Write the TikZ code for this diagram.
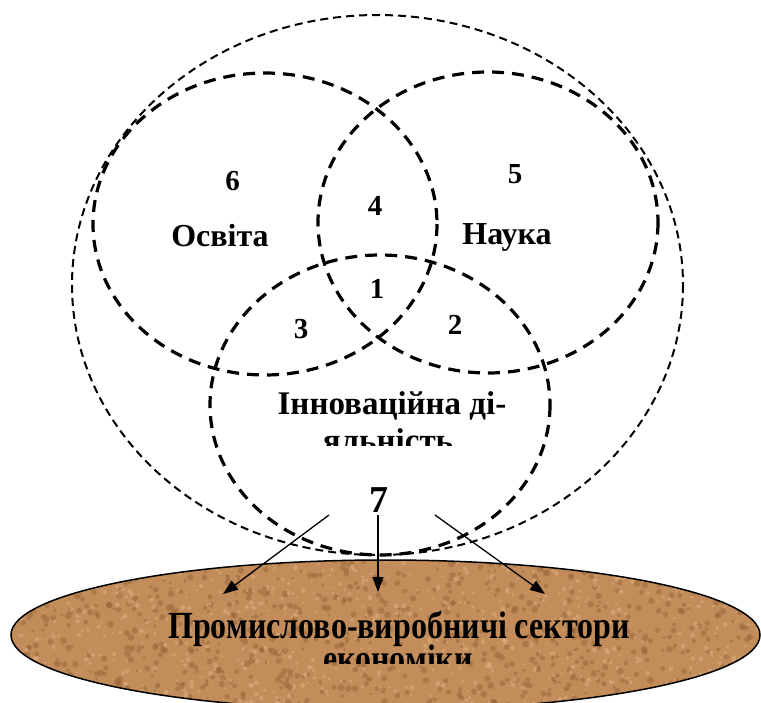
\documentclass[tikz,border=0pt]{standalone}
\usepackage{fontspec}
\setmainfont{Liberation Serif}
\usetikzlibrary{arrows.meta}
\definecolor{sand}{HTML}{C28C5B}
\definecolor{sanddark}{HTML}{94602F}
\definecolor{sandlight}{HTML}{E2B284}

\begin{document}
\begin{tikzpicture}[x=1pt, y=-1pt, >={Triangle[length=15pt,width=11pt]},
    ring/.style={draw=black, line width=3.2pt, dash pattern=on 12pt off 8pt},
    hull/.style={draw=black, line width=2pt, dash pattern=on 8pt off 5pt},
    num/.style={font=\fontsize{29}{32}\selectfont\bfseries, inner sep=0pt},
    lbl/.style={font=\fontsize{32}{36}\selectfont\bfseries, inner sep=0pt, anchor=base}]
  \useasboundingbox (0,0) rectangle (761,703);

  % outer area and the three fields
  \draw[hull] (377.5,285) ellipse [x radius=305.5, y radius=270];
  \draw[ring] (265,224) ellipse [x radius=172, y radius=151];
  \draw[ring] (488,222.5) ellipse [x radius=170, y radius=150.5];
  \draw[ring] (380,405) ellipse [x radius=170, y radius=150];

  % sectors of the economy, sandy fill
  \begin{scope}
    \clip (385.5,635) ellipse [x radius=374.5, y radius=75];
    \fill[sand] (0,550) rectangle (761,720);
    \pgfmathsetseed{7}
    \foreach \i in {1,...,900} {
      \fill[sanddark, opacity=.45] (385+rand*375, 635+rand*80) circle (1.5+2*rnd);
      \fill[sandlight, opacity=.5] (385+rand*375, 635+rand*80) circle (1+1.5*rnd);
    }
  \end{scope}
  \draw[line width=1.5pt] (385.5,635) ellipse [x radius=374.5, y radius=75];

  \node[num] (n6) at (232.5,181) {6};
  \node[num] (n4) at (375,206) {4};
  \node[num] (n5) at (515,174) {5};
  \node[num] (n1) at (377,289) {1};
  \node[num] (n3) at (301,329) {3};
  \node[num] (n2) at (455,325) {2};
  \node[num, font=\fontsize{38}{40}\selectfont\bfseries] (n7) at (379,500) {7};

  \node[lbl] (osv) at (220,247) {Освіта};
  \node[lbl] (nauk) at (507,245) {Наука};
  \node[lbl, font=\fontsize{33}{36}\selectfont\bfseries] (inn) at (392,415) {Інноваційна ді-};
  \begin{scope}
    \clip (250,420) rectangle (530,446);
    \node[lbl, font=\fontsize{33}{36}\selectfont\bfseries, text height=16pt] (inn2) at (388,451) {яльність};
  \end{scope}
  \node[lbl, text depth=0pt] (sec) at (399,638) {\scalebox{1}[1.2]{Промислово-виробничі сектори}};
  \begin{scope}
    \clip (300,642) rectangle (500,663);
    \node[lbl, text height=18pt] (sec2) at (398,671) {\scalebox{1}[1.2]{економіки}};
  \end{scope}

  % influence arrows
  \coordinate (s1) at (329,515);
  \coordinate (s2) at (378,515);
  \coordinate (s3) at (435,515);
  \coordinate (t1) at (223,594);
  \coordinate (t2) at (378,592);
  \coordinate (t3) at (545,594);
  \foreach \a/\b in {s1/t1, s2/t2, s3/t3} \draw[->, line width=1.3pt] (\a)--(\b);
\end{tikzpicture}
\end{document}
